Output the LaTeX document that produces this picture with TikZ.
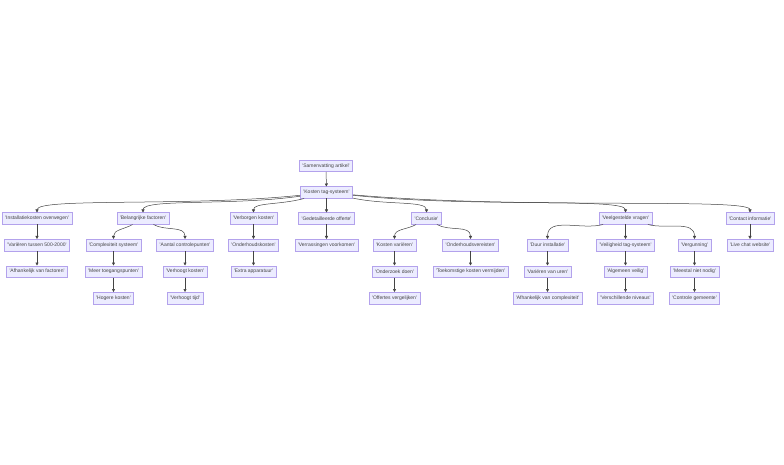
\documentclass[tikz,border=0pt]{standalone}
\usepackage{fontspec}
\setmainfont{Liberation Sans}
\usepackage{tikz}
\usepackage{xcolor}
\usetikzlibrary{arrows.meta}
\definecolor{boxfill}{HTML}{ECECFF}
\definecolor{boxline}{HTML}{B3A2EC}
\definecolor{edgeline}{HTML}{444444}
\newcommand{\quoted}[1]{\textquotesingle#1\textquotesingle}

\begin{document}
\begin{tikzpicture}[x=1pt,y=1pt,
  box/.style={draw=boxline, fill=boxfill, line width=0.5pt, text=edgeline, font=\fontsize{5}{6}\selectfont, inner xsep=3pt, inner ysep=0pt, minimum height=11.5pt},
  edge/.style={draw=edgeline, line width=0.5pt, -{Triangle[length=3pt,width=3pt]}}]
\useasboundingbox (0,0) rectangle (784,464);
\node[box] (sam) at (326,298) {\quoted{Samenvatting artikel}};
\node[box] (kts) at (326.5,271.5) {\quoted{Kosten tag-systeem}};
\node[box] (inst) at (37,245.5) {\quoted{Installatiekosten overwegen}};
\node[box] (bel) at (143,245.5) {\quoted{Belangrijke factoren}};
\node[box] (verb) at (253.5,245.5) {\quoted{Verborgen kosten}};
\node[box] (ged) at (326.5,245.5) {\quoted{Gedetailleerde offerte}};
\node[box] (concl) at (426.5,245.5) {\quoted{Conclusie}};
\node[box] (veel) at (625.5,245.5) {\quoted{Veelgestelde vragen}};
\node[box] (cont) at (750,245.5) {\quoted{Contact informatie}};
\node[box] (var) at (37,219) {\quoted{Variëren tussen 500-2000}};
\node[box] (comp) at (113.5,219) {\quoted{Complexiteit systeem}};
\node[box] (aant) at (185,219) {\quoted{Aantal controlepunten}};
\node[box] (ondk) at (253.5,219) {\quoted{Onderhoudskosten}};
\node[box] (verr) at (326.5,219) {\quoted{Verrassingen voorkomen}};
\node[box] (kv) at (394.5,219) {\quoted{Kosten variëren}};
\node[box] (ov) at (470.5,219) {\quoted{Onderhoudsvereisten}};
\node[box] (duur) at (547.5,219) {\quoted{Duur installatie}};
\node[box] (veil) at (625.5,219) {\quoted{Veiligheid tag-systeem}};
\node[box] (verg) at (694.5,219) {\quoted{Vergunning}};
\node[box] (live) at (750,219) {\quoted{Live chat website}};
\node[box] (afh) at (37,192.5) {\quoted{Afhankelijk van factoren}};
\node[box] (meer) at (113.5,192.5) {\quoted{Meer toegangspunten}};
\node[box] (vhk) at (185,192.5) {\quoted{Verhoogt kosten}};
\node[box] (extra) at (253.5,192.5) {\quoted{Extra apparatuur}};
\node[box] (oz) at (394.5,192.5) {\quoted{Onderzoek doen}};
\node[box] (toek) at (470.5,192.5) {\quoted{Toekomstige kosten vermijden}};
\node[box] (vvu) at (547.5,192.5) {\quoted{Variëren van uren}};
\node[box] (alg) at (625.5,192.5) {\quoted{Algemeen veilig}};
\node[box] (mees) at (694.5,192.5) {\quoted{Meestal niet nodig}};
\node[box] (hog) at (113.5,166) {\quoted{Hogere kosten}};
\node[box] (vht) at (185,166) {\quoted{Verhoogt tijd}};
\node[box] (off) at (394.5,166) {\quoted{Offertes vergelijken}};
\node[box] (afc) at (547.5,166) {\quoted{Afhankelijk van complexiteit}};
\node[box] (versch) at (625.5,166) {\quoted{Verschillende niveaus}};
\node[box] (ctrl) at (694.5,166) {\quoted{Controle gemeente}};
\draw[edge] (sam) -- (kts);
\draw[edge] (kts) to[out=186,in=90,out distance=110pt,in distance=15pt] (inst);
\draw[edge] (kts) to[out=188,in=90,out distance=70pt,in distance=14pt] (bel);
\draw[edge] (kts) to[out=195,in=90,out distance=25pt,in distance=10pt] (verb);
\draw[edge] (kts) -- (ged);
\draw[edge] (kts) to[out=-12,in=90,out distance=35pt,in distance=12pt] (concl);
\draw[edge] (kts) to[out=-6,in=90,out distance=120pt,in distance=15pt] (veel);
\draw[edge] (kts) to[out=-5,in=90,out distance=170pt,in distance=15pt] (cont);
\draw[edge] (inst) -- (var);
\draw[edge] (var) -- (afh);
\draw[edge] (bel) to[out=-150,in=90] (comp);
\draw[edge] (bel) to[out=-30,in=90] (aant);
\draw[edge] (comp) -- (meer);
\draw[edge] (meer) -- (hog);
\draw[edge] (aant) -- (vhk);
\draw[edge] (vhk) -- (vht);
\draw[edge] (verb) -- (ondk);
\draw[edge] (ondk) -- (extra);
\draw[edge] (ged) -- (verr);
\draw[edge] (concl) to[out=-150,in=90] (kv);
\draw[edge] (concl) to[out=-30,in=90] (ov);
\draw[edge] (kv) -- (oz);
\draw[edge] (oz) -- (off);
\draw[edge] (ov) -- (toek);
\draw[edge] (veel) to[out=-165,in=90] (duur);
\draw[edge] (veel) -- (veil);
\draw[edge] (veel) to[out=-15,in=90] (verg);
\draw[edge] (duur) -- (vvu);
\draw[edge] (vvu) -- (afc);
\draw[edge] (veil) -- (alg);
\draw[edge] (alg) -- (versch);
\draw[edge] (verg) -- (mees);
\draw[edge] (mees) -- (ctrl);
\draw[edge] (cont) -- (live);
\end{tikzpicture}
\end{document}
